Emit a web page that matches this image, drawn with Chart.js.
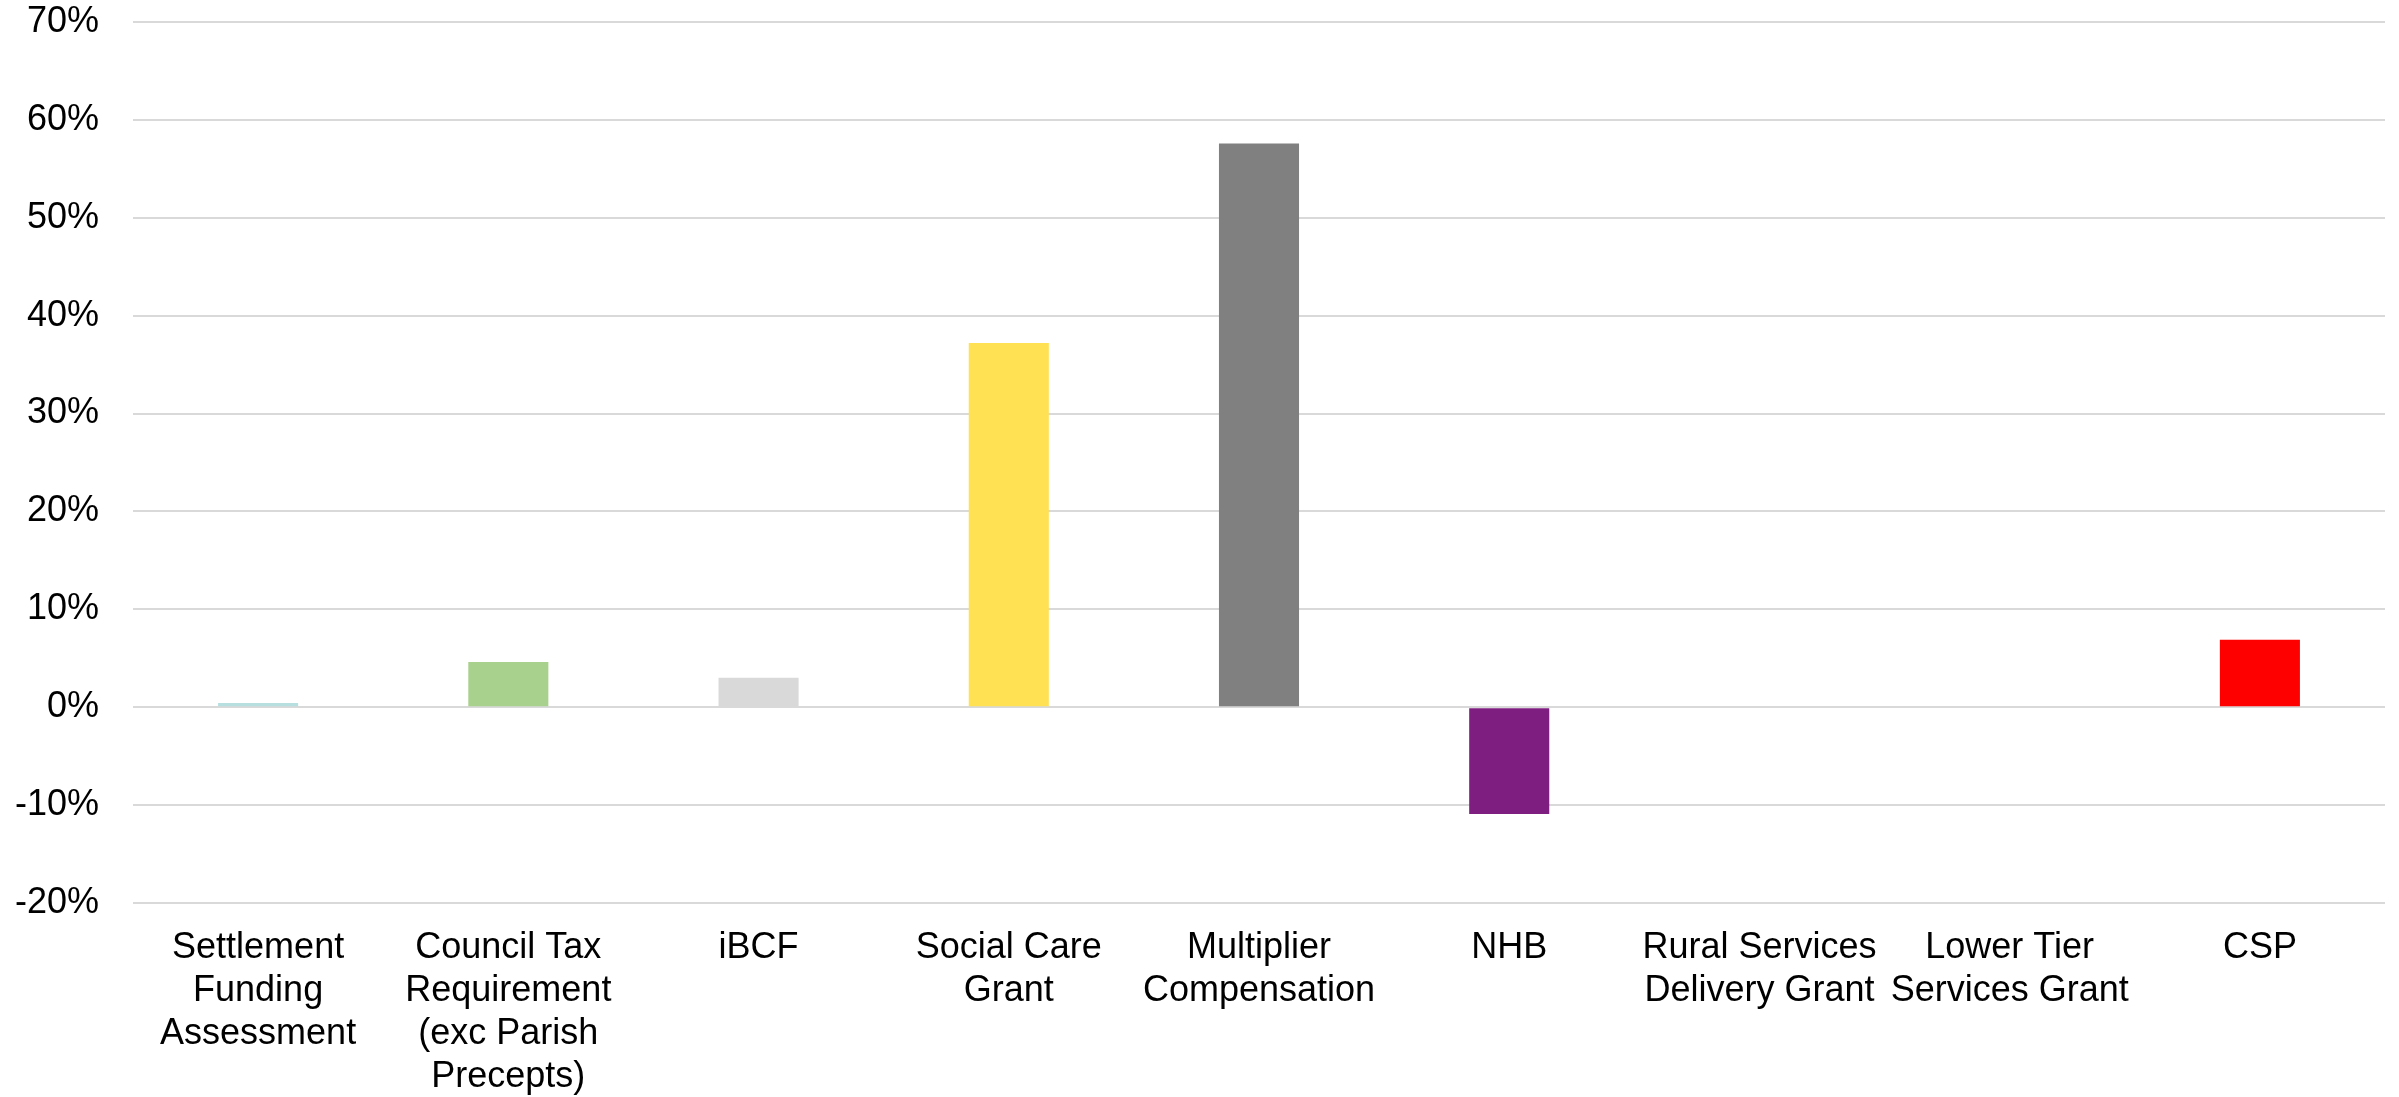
<!DOCTYPE html>
<html>
<head>
<meta charset="utf-8">
<script src="https://cdn.jsdelivr.net/npm/chart.js@4/dist/chart.umd.min.js"></script>
<style>
  html, body { margin: 0; padding: 0; background: #ffffff; }
  #wrap { width: 2399px; height: 1097px; position: relative; }
</style>
</head>
<body>
<div id="wrap"><canvas id="c"></canvas></div>
<script>
const categories = [
  ["Settlement", "Funding", "Assessment"],
  ["Council Tax", "Requirement", "(exc Parish", "Precepts)"],
  ["iBCF"],
  ["Social Care", "Grant"],
  ["Multiplier", "Compensation"],
  ["NHB"],
  ["Rural Services", "Delivery Grant"],
  ["Lower Tier", "Services Grant"],
  ["CSP"]
];
const values = [0.44, 4.63, 3.0, 37.2, 57.6, -10.9, 0, 0, 6.9];
const barColors = ["#B7DFE0", "#A9D18E", "#D9D9D9", "#FFE153", "#808080", "#7E1E80", "#D0D0D0", "#D0D0D0", "#FF0000"];
const yTicks = { min: -20, max: 70, step: 10 };

const fontSpec = { family: "'Liberation Sans', Arial, sans-serif", size: 36, lineHeight: 1.2 };

new Chart(document.getElementById('c'), {
  type: 'bar',
  data: {
    labels: categories,
    datasets: [{
      data: values,
      backgroundColor: barColors,
      borderWidth: 0,
      barPercentage: 0.32,
      categoryPercentage: 1.0
    }]
  },
  options: {
    responsive: true,
    maintainAspectRatio: false,
    animation: false,
    devicePixelRatio: 1,
    layout: { padding: { left: 14, right: 14, top: 22, bottom: 0 } },
    plugins: { legend: { display: false }, tooltip: { enabled: false } },
    scales: {
      x: {
        grid: { display: false, drawTicks: false },
        border: { display: false },
        ticks: {
          color: '#000000',
          font: fontSpec,
          padding: 23,
          autoSkip: false,
          maxRotation: 0,
          minRotation: 0
        },
        afterFit: s => { s.height = 194; s.paddingLeft = 0; s.paddingRight = 0; }
      },
      y: {
        min: yTicks.min,
        max: yTicks.max,
        grid: { color: '#D9D9D9', lineWidth: 2, drawTicks: false },
        border: { display: false },
        ticks: {
          stepSize: yTicks.step,
          color: '#000000',
          padding: 34,
          font: fontSpec,
          callback: v => v + '%'
        },
        afterFit: s => { s.width = 119; s.paddingTop = 0; s.paddingBottom = 0; }
      }
    }
  }
});
</script>
</body>
</html>
